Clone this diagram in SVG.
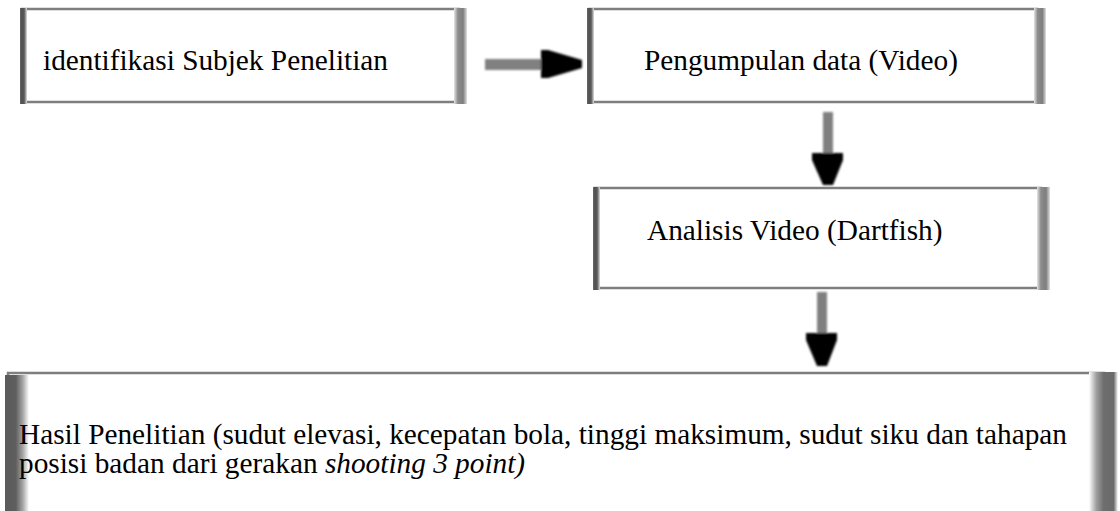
<svg xmlns="http://www.w3.org/2000/svg" width="1120" height="511" viewBox="0 0 1120 511">
  <defs>
    <style>
      .frame { fill: #ffffff; stroke: #7e7e7e; stroke-width: 2.5; }
      .edgeL { fill: url(#gL); }
      .edgeR { fill: url(#gR); }
      .label { font-size: 29.3px; fill: #000000; }
      .shaft { fill: #808080; }
      .head { fill: #000000; }
    </style>
    <linearGradient id="gL" x1="0" y1="0" x2="1" y2="0">
      <stop offset="0" stop-color="#6a6a6a"/>
      <stop offset="0.25" stop-color="#505050"/>
      <stop offset="0.6" stop-color="#5a5a5a"/>
      <stop offset="1" stop-color="#e0e0e0"/>
    </linearGradient>
    <linearGradient id="gR" x1="0" y1="0" x2="1" y2="0">
      <stop offset="0" stop-color="#e4e4e4"/>
      <stop offset="0.3" stop-color="#8c8c8c"/>
      <stop offset="0.7" stop-color="#7e7e7e"/>
      <stop offset="1" stop-color="#e0e0e0"/>
    </linearGradient>
    <linearGradient id="gL4" x1="0" y1="0" x2="1" y2="0">
      <stop offset="0" stop-color="#5a5a5a"/>
      <stop offset="0.45" stop-color="#5e5e5e"/>
      <stop offset="0.75" stop-color="#a8a8a8"/>
      <stop offset="1" stop-color="#ffffff"/>
    </linearGradient>
    <linearGradient id="gR4" x1="0" y1="0" x2="1" y2="0">
      <stop offset="0" stop-color="#ffffff"/>
      <stop offset="0.25" stop-color="#a0a0a0"/>
      <stop offset="0.5" stop-color="#6e6e6e"/>
      <stop offset="0.85" stop-color="#6a6a6a"/>
      <stop offset="1" stop-color="#ffffff"/>
    </linearGradient>
    <filter id="soft" x="-30%" y="-30%" width="160%" height="160%">
      <feGaussianBlur stdDeviation="1.2"/>
    </filter>
  </defs>

  <rect width="1120" height="511" fill="#ffffff"/>

  <g id="connectors" filter="url(#soft)">
    <g id="c1">
      <rect class="shaft" x="485" y="59" width="58" height="11"/>
      <polygon class="head" points="541,50 548,50 582,60 582,68 548,78 541,78"/>
    </g>
    <g id="c2">
      <rect class="shaft" x="823" y="112" width="10" height="43"/>
      <polygon class="head" points="812,153 843,153 843,160 833,185 823,185 812,160"/>
    </g>
    <g id="c3">
      <rect class="shaft" x="817" y="292" width="10" height="43"/>
      <polygon class="head" points="806,333 837,333 837,340 827,366 817,366 806,340"/>
    </g>
  </g>

  <g id="n1">
    <rect class="frame" x="22" y="9" width="437" height="93"/>
    <rect class="edgeL" x="20" y="8" width="7" height="96"/>
    <rect class="edgeR" x="454" y="8" width="13" height="96"/>
    <text class="label" font-family="'Liberation Serif', serif" x="43" y="70">identifikasi Subjek Penelitian</text>
  </g>

  <g id="n2">
    <rect class="frame" x="589" y="9" width="448" height="93"/>
    <rect class="edgeL" x="587" y="8" width="7" height="96"/>
    <rect class="edgeR" x="1034" y="8" width="12" height="96"/>
    <text class="label" font-family="'Liberation Serif', serif" x="644" y="70">Pengumpulan data (Video)</text>
  </g>

  <g id="n3">
    <rect class="frame" x="595" y="188" width="446" height="100"/>
    <rect class="edgeL" x="593" y="187" width="7" height="103"/>
    <rect class="edgeR" x="1037" y="187" width="13" height="103"/>
    <text class="label" font-family="'Liberation Serif', serif" x="647" y="240">Analisis Video (Dartfish)</text>
  </g>

  <g id="n4">
    <rect class="frame" x="8" y="373" width="1096" height="160"/>
    <rect x="5" y="375" width="24" height="140" fill="url(#gL4)"/>
    <rect x="1089" y="372" width="29" height="142" fill="url(#gR4)"/>
    <text class="label" font-family="'Liberation Serif', serif" x="19" y="444">Hasil Penelitian (sudut elevasi, kecepatan bola, tinggi maksimum, sudut siku dan tahapan</text>
    <text class="label" font-family="'Liberation Serif', serif" x="19" y="473">posisi badan dari gerakan <tspan font-style="italic">shooting 3 point)</tspan></text>
  </g>
</svg>
